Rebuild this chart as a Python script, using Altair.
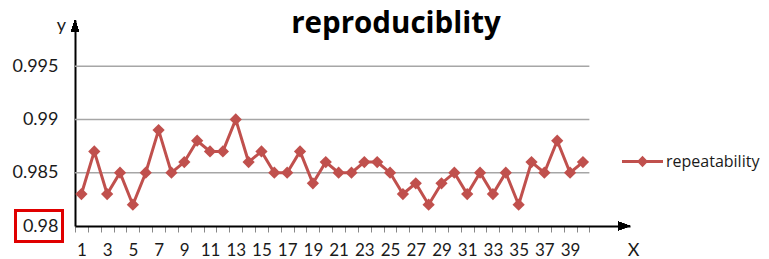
import altair as alt
import pandas as pd

# ---- data ----
x_vals = list(range(1, 41))
repeatability = [0.983, 0.987, 0.983, 0.985, 0.982, 0.985, 0.989, 0.985, 0.986, 0.988,
                 0.987, 0.987, 0.990, 0.986, 0.987, 0.985, 0.985, 0.987, 0.984, 0.986,
                 0.985, 0.985, 0.986, 0.986, 0.985, 0.983, 0.984, 0.982, 0.984, 0.985,
                 0.983, 0.985, 0.983, 0.985, 0.982, 0.986, 0.985, 0.988, 0.985, 0.986]
series_name = "repeatability"
chart_title = "reproduciblity"
y_ticks = [0.98, 0.985, 0.99, 0.995]
grid_vals = [0.985, 0.99, 0.995]
x_tick_vals = [i + 0.5 for i in range(0, 41)]
highlight_label = 0.98

X_MIN, X_MAX = 0.5, 43.66
Y_MIN, Y_MAX = 0.98, 0.99933
CAT_END = 40.5

RED = "#C0504D"
FONT = "Lato"

df = pd.DataFrame({"x": x_vals, "y": repeatability, "series": series_name})
grid_df = pd.DataFrame({"y": grid_vals})
title_df = pd.DataFrame({"t": [chart_title]})

xscale = alt.Scale(domain=[X_MIN, X_MAX], nice=False, zero=False)
yscale = alt.Scale(domain=[Y_MIN, Y_MAX], nice=False, zero=False)

x_axis = alt.Axis(
    values=x_tick_vals,
    labelExpr="(datum.value < 40) && ((datum.value + 0.5) % 2 == 1) ? format(datum.value + 0.5, 'd') : ''",
    labelOffset=6.43, labelFlush=False, labelOverlap=False, labelBound=False,
    tickSize=6, tickColor="#888888", tickWidth=1,
    domainColor="#000000", domainWidth=2,
    labelFont=FONT, labelFontSize=17, labelColor="#1a1a1a", labelPadding=10,
    grid=False,
    title="X", titleFont=FONT, titleFontSize=18, titleFontWeight="normal",
    titleColor="#1a1a1a", titleX=558, titleY=29, titleBaseline="alphabetic",
    titleAlign="center",
)
y_axis = alt.Axis(
    values=y_ticks, format="~g", ticks=False, grid=False,
    domainColor="#000000", domainWidth=2,
    labelFont=FONT, labelFontSize=18, labelColor="#1a1a1a", labelPadding=17,
    labelFlush=False, labelOverlap=False,
    title="y", titleFont=FONT, titleFontSize=18, titleFontWeight="normal",
    titleColor="#1a1a1a", titleAngle=0, titleX=-14, titleY=10,
    titleBaseline="alphabetic", titleAlign="center",
)

base = alt.Chart(df)

grid = alt.Chart(grid_df).mark_rule(color="#A6A6A6", strokeWidth=1.5).encode(
    x=alt.XDatum(X_MIN, scale=xscale, axis=x_axis),
    x2=alt.X2Datum(CAT_END),
    y=alt.Y("y:Q", scale=yscale, axis=y_axis),
)

line = base.mark_line(color=RED, strokeWidth=3).encode(
    x=alt.X("x:Q", scale=xscale, axis=x_axis),
    y=alt.Y("y:Q", scale=yscale, axis=y_axis),
)

legend_shape = ("M-2,-0.15 L-0.4,-0.15 L0,-0.55 L0.4,-0.15 L2,-0.15 L2,0.15 "
                "L0.4,0.15 L0,0.55 L-0.4,0.15 L-2,0.15 Z")

points = base.mark_point(shape="diamond", filled=True, size=150, opacity=1).encode(
    x=alt.X("x:Q", scale=xscale, axis=x_axis),
    y=alt.Y("y:Q", scale=yscale, axis=y_axis),
    color=alt.Color("series:N", scale=alt.Scale(domain=[series_name], range=[RED]),
                    legend=alt.Legend(title=None, orient="none", legendX=557, legendY=131,
                                      symbolType=legend_shape, symbolSize=420,
                                      symbolStrokeWidth=0, symbolFillColor=RED,
                                      symbolOpacity=1,
                                      labelFont="Open Sans", labelFontSize=16,
                                      labelColor="#1a1a1a", labelOffset=13, padding=0)),
)

arrow_up = alt.Chart(df).mark_point(
    shape="M0,0 L0.65,2 L-0.65,2 Z", filled=True, color="#000000", size=144, opacity=1
).encode(
    x=alt.XDatum(X_MIN, scale=xscale, axis=x_axis),
    y=alt.YDatum(Y_MAX, scale=yscale, axis=y_axis),
)
arrow_right = alt.Chart(df).mark_point(
    shape="M0,0 L-2,-0.7 L-2,0.7 Z", filled=True, color="#000000", size=144, opacity=1
).encode(
    x=alt.XDatum(X_MAX, scale=xscale, axis=x_axis),
    y=alt.YDatum(Y_MIN, scale=yscale, axis=y_axis),
)

red_box = alt.Chart(df).mark_point(
    shape="M-1,-0.65 L1,-0.65 L1,0.65 L-1,0.65 Z", filled=False, color="#E00000",
    strokeWidth=2, size=2209, opacity=1
).encode(
    x=alt.value(-36),
    y=alt.YDatum(highlight_label, scale=yscale, axis=y_axis),
)

title_text = alt.Chart(title_df).mark_text(
    font="Open Sans", fontSize=29.5, fontWeight="bold", color="#000000",
    align="center", baseline="alphabetic"
).encode(text="t:N", x=alt.value(321), y=alt.value(13))

chart = alt.layer(grid, line, points, arrow_up, arrow_right, red_box, title_text).properties(
    width=555, height=206,
    autosize=alt.AutoSizeParams(type="none"),
    padding={"left": 67, "top": 12, "right": 131, "bottom": 33},
    background="white",
).configure_view(stroke=None)

chart.save("out.html", embed_options={"renderer": "svg", "actions": False})
